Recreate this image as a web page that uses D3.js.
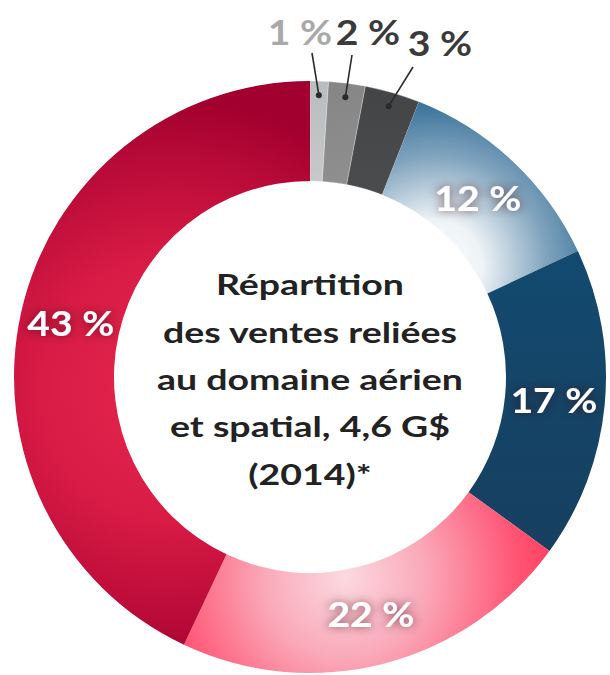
<!DOCTYPE html>
<html>
<head>
<meta charset="utf-8">
<script src="https://cdn.jsdelivr.net/npm/d3@7"></script>
<style>
  html, body { margin: 0; padding: 0; background: #ffffff; }
  svg { display: block; }
</style>
</head>
<body>
<script>
// ---- data ----
const categories = ["s1", "s2", "s3", "s4", "s5", "s6", "s7"];
const values = [1, 2, 3, 12, 17, 22, 43];
const valueLabels = ["1 %", "2 %", "3 %", "12 %", "17 %", "22 %", "43 %"];
const titleLines = ["Répartition", "des ventes reliées", "au domaine aérien", "et spatial, 4,6 G$", "(2014)*"];

// ---- layout ----
const W = 610, H = 675;
const cx = 310, cy = 377;
const rOuter = 296, rInner = 196;
const FONT = "Lato, 'Open Sans', sans-serif";

const svg = d3.select("body").append("svg").attr("width", W).attr("height", H);
const defs = svg.append("defs");

// gradients
function radial(id, x, y, r, stops) {
  const g = defs.append("radialGradient").attr("id", id)
    .attr("gradientUnits", "userSpaceOnUse")
    .attr("cx", x).attr("cy", y).attr("r", r);
  stops.forEach(s => g.append("stop").attr("offset", s[0]).attr("stop-color", s[1]));
}
function linear(id, x1, y1, x2, y2, stops) {
  const g = defs.append("linearGradient").attr("id", id)
    .attr("gradientUnits", "userSpaceOnUse")
    .attr("x1", x1).attr("y1", y1).attr("x2", x2).attr("y2", y2);
  stops.forEach(s => g.append("stop").attr("offset", s[0]).attr("stop-color", s[1]));
}
linear("g1", 0, 80, 0, 180, [[0, "#b9bcbe"], [1, "#c6c8ca"]]);
linear("g2", 330, 80, 360, 180, [[0, "#858585"], [1, "#8f8f8f"]]);
linear("g3", 0, 80, 0, 180, [[0, "#434446"], [1, "#4a4b4d"]]);
radial("g4", 436, 266, 185, [[0, "#ffffff"], [0.25, "#eef3f6"], [0.6, "#7fa3bd"], [1, "#1d5f8c"]]);
linear("g5", 0, 250, 0, 550, [[0, "#124a6f"], [1, "#173f60"]]);
radial("g6", 345, 578, 230, [[0, "#fcd9e0"], [0.35, "#faa9b9"], [0.75, "#ff5574"], [1, "#ff3356"]]);
radial("g7", 170, 390, 290, [[0, "#e6284f"], [0.45, "#d81b45"], [0.8, "#b80a38"], [1, "#a2002e"]]);
const fills = ["url(#g1)", "url(#g2)", "url(#g3)", "url(#g4)", "url(#g5)", "url(#g6)", "url(#g7)"];

// shadow filter for labels
const f = defs.append("filter").attr("id", "glow").attr("x", "-30%").attr("y", "-50%").attr("width", "160%").attr("height", "200%");
f.append("feGaussianBlur").attr("in", "SourceAlpha").attr("stdDeviation", 5).attr("result", "b");
f.append("feFlood").attr("flood-color", "#3a0a18").attr("flood-opacity", 0.65);
f.append("feComposite").attr("in2", "b").attr("operator", "in").attr("result", "s");
const fm = f.append("feMerge");
fm.append("feMergeNode").attr("in", "s");
fm.append("feMergeNode").attr("in", "SourceGraphic");

const pie = d3.pie().sort(null).value(d => d);
const arcs = pie(values);
const g = svg.append("g").attr("transform", `translate(${cx},${cy})`);

g.selectAll("path.slice").data(arcs).join("path")
  .attr("class", "slice")
  .attr("transform", `translate(${-cx},${-cy})`)
  .attr("d", d => {
    // slice drawn in absolute coords so user-space gradients line up
    const p = d3.path();
    const a0 = d.startAngle - Math.PI / 2, a1 = d.endAngle - Math.PI / 2;
    p.moveTo(cx + rOuter * Math.cos(a0), cy + rOuter * Math.sin(a0));
    p.arc(cx, cy, rOuter, a0, a1, false);
    p.lineTo(cx + rInner * Math.cos(a1), cy + rInner * Math.sin(a1));
    p.arc(cx, cy, rInner, a1, a0, true);
    p.closePath();
    return p.toString();
  })
  .attr("fill", (d, i) => fills[i])
  .attr("stroke", (d, i) => i < 3 ? "rgba(255,255,255,0.35)" : "none")
  .attr("stroke-width", 0.8);

const SX = 1.12; // horizontal widening of label glyphs

// inner labels (large slices)
const labelArc = d3.arc().innerRadius(245).outerRadius(245);
g.selectAll("text.in").data(arcs.filter((d, i) => i >= 3)).join("text")
  .attr("class", "in")
  .attr("transform", d => `translate(${labelArc.centroid(d)}) scale(${SX},1)`)
  .attr("text-anchor", "middle")
  .attr("dy", "0.36em")
  .attr("font-family", FONT).attr("font-weight", 700).attr("font-size", 35)
  .attr("fill", "#ffffff")
  .attr("filter", "url(#glow)")
  .text(d => valueLabels[d.index]);

// outer labels (small slices) with leader lines
const dotArc = d3.arc().innerRadius(282).outerRadius(282);
const outerPos = [[2, -324, -10, -345], [42, -322, 58, -345], [103, -310, 130, -334]]; // line end x,y ; text x,y (relative to centre)
const outerColors = ["#a9a9a9", "#3a3a3a", "#3a3a3a"];
arcs.filter((d, i) => i < 3).forEach((d, i) => {
  const c = dotArc.centroid(d);
  g.append("line")
    .attr("x1", c[0]).attr("y1", c[1])
    .attr("x2", outerPos[i][0]).attr("y2", outerPos[i][1])
    .attr("stroke", "#2a2a2a").attr("stroke-width", 1.6);
  g.append("circle").attr("cx", c[0]).attr("cy", c[1]).attr("r", 3).attr("fill", "#2a2a2a");
  g.append("text")
    .attr("transform", `translate(${outerPos[i][2]},${outerPos[i][3]}) scale(${SX},1)`)
    .attr("text-anchor", "middle").attr("dy", "0.36em")
    .attr("font-family", FONT).attr("font-weight", 700).attr("font-size", 35)
    .attr("fill", outerColors[i])
    .text(valueLabels[d.index]);
});

// centre title, widened to the reference's line width
const t = g.append("text")
  .attr("text-anchor", "middle")
  .attr("font-family", FONT).attr("font-weight", 700).attr("font-size", 29)
  .attr("fill", "#222222");
const tspans = titleLines.map((line, i) =>
  t.append("tspan").attr("x", 0).attr("y", -82 + i * 47.5).text(line));
const widest = d3.max(tspans, s => s.node().getComputedTextLength());
const k = 306 / widest;
t.attr("transform", `scale(${k},1)`);
</script>
</body>
</html>
